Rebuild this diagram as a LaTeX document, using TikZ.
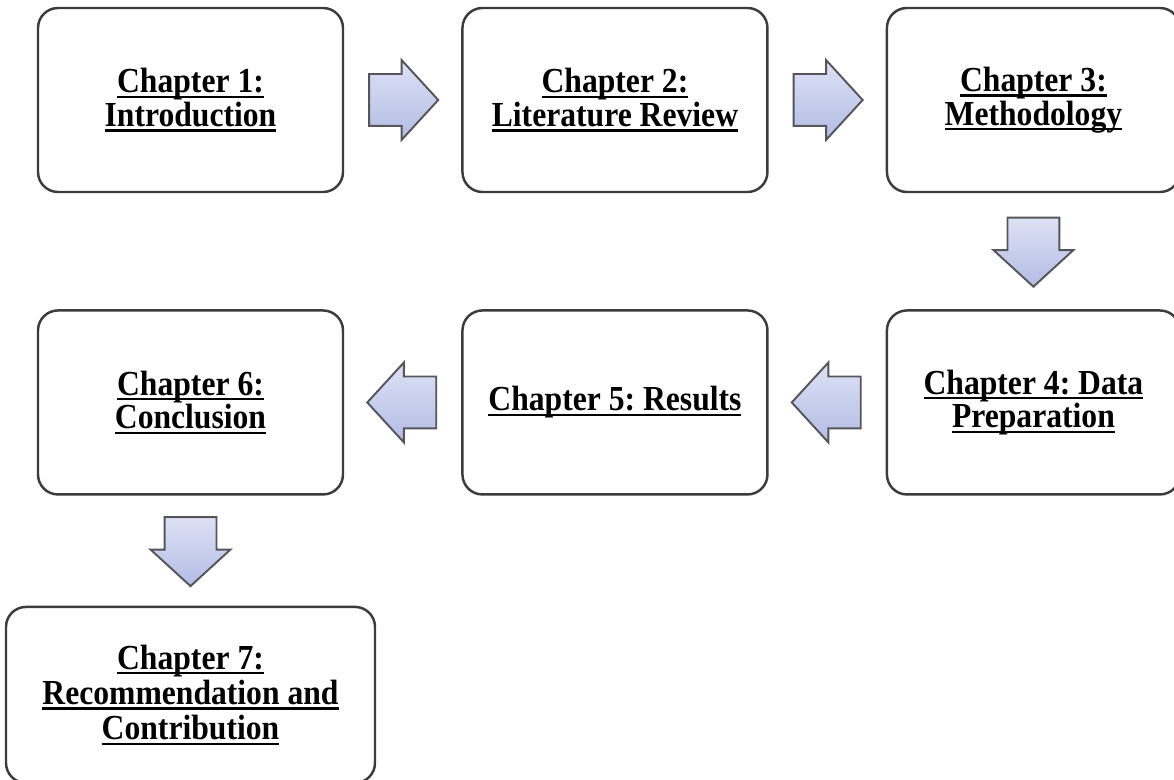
\documentclass[tikz,border=0pt]{standalone}
\usepackage{fontspec}
\setmainfont{Liberation Serif}[FakeStretch=0.9]
\usepackage{xcolor}
\usepackage{tikz}
\usetikzlibrary{positioning, calc, shapes.arrows}
\definecolor{boxgrey}{RGB}{60,60,60}
\definecolor{arrowedge}{RGB}{85,85,90}
\definecolor{arrowtop}{RGB}{222,226,246}
\definecolor{arrowbot}{RGB}{178,188,228}
\frenchspacing

\newsavebox{\chbox}
\newcommand{\chul}[1]{\sbox{\chbox}{#1}\rlap{\rule[-3pt]{\wd\chbox}{1.4pt}}\usebox{\chbox}}

\begin{document}
\begin{tikzpicture}[
        node distance=2.32cm and 2.34cm,
        every node/.style={font=\fontsize{20}{18}\selectfont\bfseries},
        chapter/.style={rectangle, draw=boxgrey, fill=white, line width=1.4pt, rounded corners=0.4cm, minimum width=6.1cm, minimum height=3.68cm, align=center},
        blockarrow/.style={single arrow, anchor=tail, draw=arrowedge, line width=1.1pt, top color=arrowtop, bottom color=arrowbot, minimum height=1.38cm, single arrow head extend=0.28cm, single arrow tip angle=95},
        harrow/.style={blockarrow, inner xsep=0pt, inner ysep=0.5cm},
        varrow/.style={blockarrow, shape border rotate=270, inner xsep=0.5cm, inner ysep=0pt}
    ]
        \useasboundingbox (0,0) rectangle (23.48,-15.6);

        % Chapters
        \node[chapter] (c1) at (3.81,-2.0) {\chul{Chapter 1:}\\\chul{Introduction}};
        \node[chapter, right=of c1] (c2) {\chul{Chapter 2:}\\\chul{Literature Review}};
        \node[chapter, right=of c2, minimum width=5.86cm] (c3) {\chul{Chapter 3:}\\\chul{Methodology}};
        \node[chapter, below=of c3, minimum width=5.86cm] (c4) {\chul{Chapter 4: Data}\\\chul{Preparation}};
        \node[chapter, below=of c2] (c5) {\chul{Chapter 5: Results}};
        \node[chapter, below=of c1] (c6) {\chul{Chapter 6:}\\\chul{Conclusion}};
        \node[chapter, below=2.2cm of c6, minimum width=7.38cm, minimum height=3.52cm] (c7) {\chul{Chapter 7:}\\[1pt]\chul{Recommendation and}\\[2pt]\chul{Contribution}};

        % Flow arrows (tail placed half a length before the gap's middle)
        \node[harrow] (a12) at ($(c1.east)!0.5!(c2.west)+(-0.69,0)$) {};
        \node[harrow] (a23) at ($(c2.east)!0.5!(c3.west)+(-0.69,0)$) {};
        \node[varrow] (a34) at ($(c3.south)!0.5!(c4.north)+(0,0.69)$) {};
        \node[harrow, shape border rotate=180] (a45) at ($(c5.east)!0.5!(c4.west)+(0.69,0)$) {};
        \node[harrow, shape border rotate=180] (a56) at ($(c6.east)!0.5!(c5.west)+(0.69,0)$) {};
        \node[varrow] (a67) at ($(c6.south)!0.5!(c7.north)+(0,0.69)$) {};

    \end{tikzpicture}
\end{document}
